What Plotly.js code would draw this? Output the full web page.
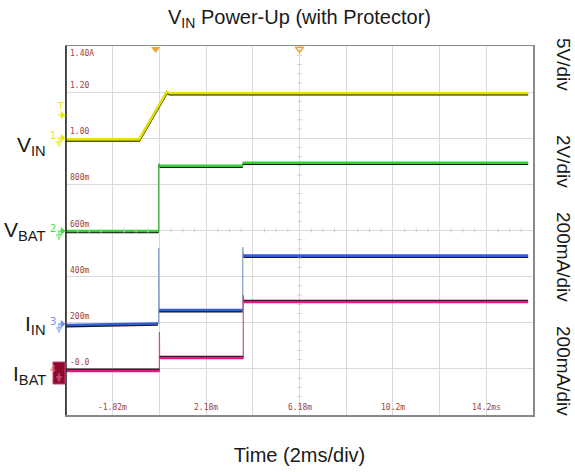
<!DOCTYPE html>
<html><head><meta charset="utf-8">
<script src="https://cdn.plot.ly/plotly-3.0.1.min.js"></script>
<style>html,body{margin:0;padding:0;background:#fff}#chart{width:575px;height:472px}</style>
</head><body><div id="chart"></div>
<script>
// ---- data (time in ms, values in displayed scope-grid units) ----
const vinT  = [-3.82, -0.69, 0.50, 0.62, 15.97];
const vinV  = [0.995, 0.995, 1.202, 1.195, 1.195];
const vbatT = [-3.82, 0.15, 0.15, 0.19, 3.75, 3.76, 15.97];
const vbatV = [0.598, 0.598, 0.891, 0.881, 0.881, 0.894, 0.894];
const iinT  = [-3.82, 0.12, 0.15, 0.15, 0.17, 3.75, 3.75, 3.78, 15.97];
const iinV  = [0.190, 0.197, 0.197, 0.524, 0.255, 0.255, 0.528, 0.491, 0.491];
const ibatT = [-3.82, 0.18, 0.18, 0.19, 3.77, 3.77, 3.79, 15.97];
const ibatV = [-0.009, -0.009, 0.160, 0.047, 0.047, 0.320, 0.290, 0.290];

const yTickVals   = [1.4, 1.2, 1.0, 0.8, 0.6, 0.4, 0.2, 0.0];
const yTickLabels = ['1.40A', '1.20', '1.00', '800m', '600m', '400m', '200m', '-0.0'];
const xTickVals   = [-1.82, 2.18, 6.18, 10.18, 14.18];
const xTickLabels = ['-1.82m', '2.18m', '6.18m', '10.2m', '14.2ms'];

const chanNames  = ['V<sub>IN</sub>', 'V<sub>BAT</sub>', 'I<sub>IN</sub>', 'I<sub>BAT</sub>'];
const chanScales = ['5V/div', '2V/div', '200mA/div', '200mA/div'];
const trigT = 0.02;

const X0 = -3.82, X1 = 16.18, Y0 = -0.2, Y1 = 1.4;
const ML = 66, MR = 42, MT = 46, MB = 57, W = 575, H = 472;
const PW = W - ML - MR, PH = H - MT - MB;
const px = p => (p - ML) / PW;          // pixel -> paper x
const py = p => (H - MB - p) / PH;      // pixel -> paper y

const colors = ['#e2e200', '#2fd22f', '#2f5fd8', '#e8177f'];
const thinColors = ['#e2e200', '#3ca83c', '#8a9ccc', '#c8508a'];
const shadowDir = [-1, -1, -1, 1];
const series = [[vinT, vinV], [vbatT, vbatV], [iinT, iinV], [ibatT, ibatV]];

function thick(t, v, off) {
  const x = [t[0]], y = [v[0] + off];
  for (let i = 1; i < t.length; i++) {
    if (Math.abs(t[i] - t[i - 1]) < 0.05) { x.push(null); y.push(null); }
    x.push(t[i]); y.push(v[i] + off);
  }
  return {x, y};
}

const traces = [];
series.forEach(([t, v], i) => {
  traces.push({x: t, y: v, mode: 'lines', line: {color: thinColors[i], width: 1.2}, hoverinfo: 'skip'});
  const s = thick(t, v, shadowDir[i] * 0.0045);
  traces.push({x: s.x, y: s.y, mode: 'lines', line: {color: '#151515', width: 2.6}, hoverinfo: 'skip'});
  const c = thick(t, v, 0);
  traces.push({x: c.x, y: c.y, mode: 'lines', line: {color: colors[i], width: 2.6}, hoverinfo: 'skip'});
});
// trigger markers at top
traces.push({x: [trigT], y: [Y1 - 0.013], mode: 'markers', cliponaxis: false,
  marker: {symbol: 'triangle-down', size: 8, color: '#f2a23a'}, hoverinfo: 'skip'});
traces.push({x: [(X0 + X1) / 2], y: [Y1 - 0.013], mode: 'markers', cliponaxis: false,
  marker: {symbol: 'triangle-down-open', size: 7, color: '#f2a23a', line: {width: 1.5, color: '#f2a23a'}}, hoverinfo: 'skip'});

const shapes = [];
// left black border
shapes.push({type: 'line', xref: 'paper', yref: 'paper', x0: 0, x1: 0, y0: 0, y1: 1, line: {color: '#222', width: 1.5}});
// center graticule ticks
const cx = (X0 + X1) / 2, cy = (Y0 + Y1) / 2;
for (let k = -20; k <= 20; k++) {
  const t = cx + k * 0.5;
  if (t <= X0 || t >= X1 || k % 4 === 0) continue;
  shapes.push({type: 'line', xref: 'x', yref: 'y', x0: t, x1: t, y0: cy - 0.009, y1: cy + 0.009, line: {color: '#cfcfcf', width: 1}});
}
for (let k = -20; k <= 20; k++) {
  const v = cy + k * 0.04;
  if (v <= Y0 || v >= Y1 || k % 5 === 0) continue;
  shapes.push({type: 'line', xref: 'x', yref: 'y', x0: cx - 0.1, x1: cx + 0.1, y0: v, y1: v, line: {color: '#cfcfcf', width: 1}});
}
// channel markers (ground symbols + arrows) on the left
function ground(gx, gy, color) {
  shapes.push({type: 'line', xref: 'paper', yref: 'paper', x0: px(gx), x1: px(gx), y0: py(gy), y1: py(gy + 4), line: {color, width: 1}});
  [[3, 4], [2, 6], [1, 8]].forEach(([hw, dy]) => {
    shapes.push({type: 'line', xref: 'paper', yref: 'paper', x0: px(gx - hw), x1: px(gx + hw), y0: py(gy + dy), y1: py(gy + dy), line: {color, width: 1}});
  });
}
function arrow(ay, color) {
  shapes.push({type: 'path', xref: 'paper', yref: 'paper',
    path: `M ${px(61)} ${py(ay - 3.5)} L ${px(65.5)} ${py(ay)} L ${px(61)} ${py(ay + 3.5)} Z`,
    fillcolor: color, line: {color, width: 0.5}});
  shapes.push({type: 'line', xref: 'paper', yref: 'paper', x0: px(58), x1: px(61), y0: py(ay), y1: py(ay), line: {color, width: 1}});
}
const markY = [138, 231, 324];
const markC = ['#e6e600', '#3ee03e', '#6f93ee'];
markY.forEach((y, i) => { ground(59, y, markC[i]); arrow(y, markC[i]); });
shapes.push({type: 'rect', xref: 'paper', yref: 'paper', x0: px(53), x1: px(65), y0: py(384), y1: py(362),
  fillcolor: '#8b0b30', line: {color: '#c8406a', width: 1}});
ground(59, 373, '#e07090');
arrow(115, '#e6e600');

const ann = [];
const tickFont = {family: 'DejaVu Sans Mono, Liberation Mono, monospace', size: 8, color: '#a04040'};
yTickVals.forEach((v, i) => {
  const top = v >= Y1;
  ann.push({xref: 'x', yref: 'y', x: X0, y: v, text: yTickLabels[i], showarrow: false,
    xanchor: 'left', yanchor: top ? 'top' : 'bottom', xshift: 2, yshift: top ? -1 : 0, font: tickFont});
});
xTickVals.forEach((v, i) => {
  ann.push({xref: 'x', yref: 'y', x: v, y: Y0, text: xTickLabels[i], showarrow: false,
    xanchor: 'center', yanchor: 'bottom', yshift: 1, font: tickFont});
});
const nameY = [146, 231, 325, 375];
chanNames.forEach((n, i) => {
  ann.push({xref: 'paper', yref: 'paper', x: px(48), y: py(nameY[i]), text: n, showarrow: false,
    xanchor: 'right', yanchor: 'middle', font: {family: 'Liberation Sans, Arial, sans-serif', size: 21, color: '#1a1a1a'}});
});
const scaleY = [64, 161, 257, 371];
chanScales.forEach((s, i) => {
  ann.push({xref: 'paper', yref: 'paper', x: px(564), y: py(scaleY[i]), text: s, showarrow: false, textangle: 90,
    xanchor: 'center', yanchor: 'middle', font: {family: 'Liberation Sans, Arial, sans-serif', size: 19, color: '#1a1a1a'}});
});
// channel number glyphs
const numTxt = ['1', '2', '3'];
markY.forEach((y, i) => {
  ann.push({xref: 'paper', yref: 'paper', x: px(58), y: py(y - 3), text: numTxt[i], showarrow: false,
    xanchor: 'right', yanchor: 'middle', font: {family: 'DejaVu Sans, sans-serif', size: 10, color: markC[i]}});
});
ann.push({xref: 'paper', yref: 'paper', x: px(58), y: py(369), text: '4', showarrow: false,
  xanchor: 'right', yanchor: 'middle', font: {family: 'DejaVu Sans, sans-serif', size: 9, color: '#e07090'}});
ann.push({xref: 'paper', yref: 'paper', x: px(60), y: py(106), text: 'T', showarrow: false,
  xanchor: 'center', yanchor: 'middle', font: {family: 'DejaVu Sans, sans-serif', size: 9, color: '#e6e600'}});

const axisCommon = {showgrid: true, gridcolor: '#dadada', gridwidth: 1, zeroline: false, showticklabels: false,
  ticks: '', showline: true, linecolor: '#8a8a8a', linewidth: 1.5, mirror: true, fixedrange: true};

const layout = {
  width: W, height: H,
  margin: {l: ML, r: MR, t: MT, b: MB},
  paper_bgcolor: '#fff', plot_bgcolor: '#fff', showlegend: false,
  font: {family: 'Liberation Sans, Arial, sans-serif', color: '#1a1a1a'},
  title: {text: 'V<sub>IN</sub> Power-Up (with Protector)', xref: 'paper', x: 0.5, xanchor: 'center',
    yref: 'container', y: 1 - 17 / H, yanchor: 'middle', font: {size: 20, color: '#1a1a1a'}},
  xaxis: Object.assign({}, axisCommon, {range: [X0, X1], tick0: X0, dtick: 2,
    title: {text: 'Time (2ms/div)', standoff: 32, font: {size: 20, color: '#1a1a1a'}}}),
  yaxis: Object.assign({}, axisCommon, {range: [Y0, Y1], tick0: Y0, dtick: 0.2}),
  shapes: shapes, annotations: ann
};

Plotly.newPlot('chart', traces, layout, {displayModeBar: false, staticPlot: true});
</script>
</body></html>
